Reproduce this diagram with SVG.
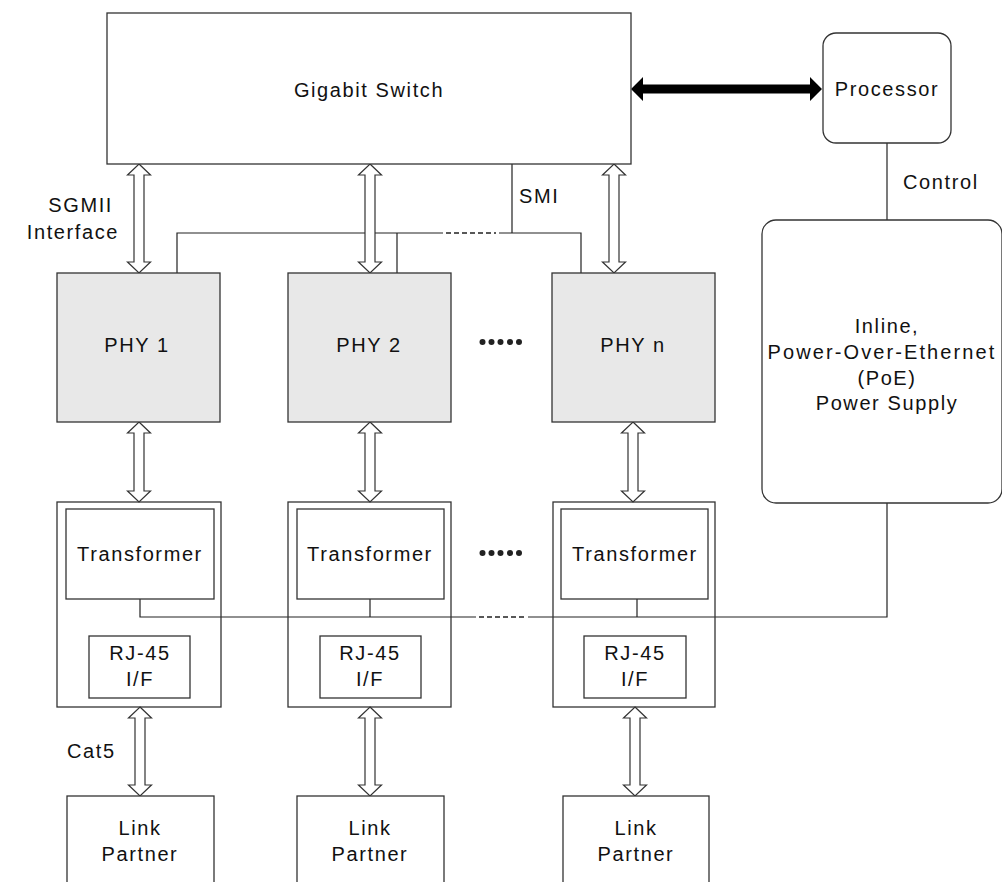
<svg xmlns="http://www.w3.org/2000/svg" width="1002" height="882" viewBox="0 0 1002 882">
<style>
.box{fill:#fff;stroke:#333;stroke-width:1.3}
.phy{fill:#e8e8e8;stroke:#333;stroke-width:1.3}
.t{font-family:"Liberation Sans",Arial,sans-serif;font-size:20px;letter-spacing:1.6px;fill:#111}
.c{text-anchor:middle}
.ln{fill:none;stroke:#222;stroke-width:1.2}
.dash{fill:none;stroke:#222;stroke-width:1.4;stroke-dasharray:5 3}
.ha{fill:#fff;stroke:#333;stroke-width:1.2;stroke-linejoin:miter}
</style>
<rect width="1002" height="882" fill="#fff"/>
<g id="connectors">
<path d="M631,89 L643,77 L643,84.5 L810,84.5 L810,77 L822,89 L810,101 L810,93.5 L643,93.5 L643,101 Z" fill="#000"/>
<path class="ln" d="M887,143 V220"/>
<path class="ln" d="M512,164 V233 M177,273 V233 H443 M499,233 H581 V273 M397,233 V273"/>
<path class="dash" d="M446,233 H496"/>
<path class="ln" d="M887,503 V617 H528 M476,617 H140 V599 M370,599 V617 M637,599 V617"/>
<path class="dash" d="M479,617 H526"/>
<path class="ha" d="M139,164 L150.5,175 L144,175 L144,262 L150.5,262 L139,273 L127.5,262 L134,262 L134,175 L127.5,175 Z"/>
<path class="ha" d="M370,164 L381.5,175 L375,175 L375,262 L381.5,262 L370,273 L358.5,262 L365,262 L365,175 L358.5,175 Z"/>
<path class="ha" d="M614,164 L625.5,175 L619,175 L619,262 L625.5,262 L614,273 L602.5,262 L609,262 L609,175 L602.5,175 Z"/>
<path class="ha" d="M139,422 L150.5,433 L144,433 L144,491 L150.5,491 L139,502 L127.5,491 L134,491 L134,433 L127.5,433 Z"/>
<path class="ha" d="M370,422 L381.5,433 L375,433 L375,491 L381.5,491 L370,502 L358.5,491 L365,491 L365,433 L358.5,433 Z"/>
<path class="ha" d="M633,422 L644.5,433 L638,433 L638,491 L644.5,491 L633,502 L621.5,491 L628,491 L628,433 L621.5,433 Z"/>
<path class="ha" d="M140,707 L151.5,718 L145,718 L145,785 L151.5,785 L140,796 L128.5,785 L135,785 L135,718 L128.5,718 Z"/>
<path class="ha" d="M370,707 L381.5,718 L375,718 L375,785 L381.5,785 L370,796 L358.5,785 L365,785 L365,718 L358.5,718 Z"/>
<path class="ha" d="M635,707 L646.5,718 L640,718 L640,785 L646.5,785 L635,796 L623.5,785 L630,785 L630,718 L623.5,718 Z"/>
</g>
<g id="switch">
<rect class="box" x="107" y="13" width="524" height="151"/>
<text class="t c" x="369" y="97">Gigabit Switch</text>
</g>
<g id="processor">
<rect class="box" x="823" y="33" width="128" height="110" rx="13"/>
<text class="t c" x="887" y="96">Processor</text>
</g>
<g id="poe">
<rect class="box" x="762" y="220" width="240" height="283" rx="14"/>
<text class="t c" x="887" y="333">Inline,</text>
<text class="t c" x="882" y="359" style="letter-spacing:2.1px">Power-Over-Ethernet</text>
<text class="t c" x="887" y="385">(PoE)</text>
<text class="t c" x="887" y="410">Power Supply</text>
</g>
<g id="labels">
<text class="t" x="113" y="212" text-anchor="end">SGMII</text>
<text class="t" x="119" y="239" text-anchor="end">Interface</text>
<text class="t" x="519" y="203">SMI</text>
<text class="t" x="903" y="189">Control</text>
<text class="t" x="67" y="758">Cat5</text>
</g>
<g id="phy1">
<rect class="phy" x="57" y="273" width="163" height="149"/>
<text class="t c" x="137" y="352">PHY 1</text>
</g>
<g id="phy2">
<rect class="phy" x="288" y="273" width="163" height="149"/>
<text class="t c" x="369" y="352">PHY 2</text>
</g>
<g id="phyn">
<rect class="phy" x="552" y="273" width="163" height="149"/>
<text class="t c" x="633" y="352">PHY n</text>
</g>
<g id="dots1" fill="#222">
<circle cx="482.5" cy="342" r="3"/><circle cx="491.5" cy="342" r="3"/><circle cx="500.5" cy="342" r="3"/><circle cx="510" cy="342" r="3"/><circle cx="519" cy="342" r="3"/>
</g>
<g id="port1">
<rect class="box" x="57" y="502" width="164" height="205" style="fill:none"/>
<rect class="box" x="66" y="509" width="148" height="90"/>
<text class="t c" x="140" y="561">Transformer</text>
<rect class="box" x="89" y="636" width="101" height="62"/>
<text class="t c" x="140" y="660">RJ-45</text>
<text class="t c" x="140" y="686">I/F</text>
</g>
<g id="port2">
<rect class="box" x="288" y="502" width="163" height="205" style="fill:none"/>
<rect class="box" x="297" y="509" width="147" height="90"/>
<text class="t c" x="370" y="561">Transformer</text>
<rect class="box" x="320" y="636" width="101" height="62"/>
<text class="t c" x="370" y="660">RJ-45</text>
<text class="t c" x="370" y="686">I/F</text>
</g>
<g id="portn">
<rect class="box" x="553" y="502" width="162" height="205" style="fill:none"/>
<rect class="box" x="561" y="509" width="147" height="90"/>
<text class="t c" x="635" y="561">Transformer</text>
<rect class="box" x="584" y="636" width="102" height="62"/>
<text class="t c" x="635" y="660">RJ-45</text>
<text class="t c" x="635" y="686">I/F</text>
</g>
<g id="dots2" fill="#222">
<circle cx="482.5" cy="553" r="3"/><circle cx="491.5" cy="553" r="3"/><circle cx="500.5" cy="553" r="3"/><circle cx="510" cy="553" r="3"/><circle cx="519" cy="553" r="3"/>
</g>
<g id="link1">
<rect class="box" x="67" y="796" width="147" height="100"/>
<text class="t c" x="140" y="835">Link</text>
<text class="t c" x="140" y="861">Partner</text>
</g>
<g id="link2">
<rect class="box" x="297" y="796" width="147" height="100"/>
<text class="t c" x="370" y="835">Link</text>
<text class="t c" x="370" y="861">Partner</text>
</g>
<g id="linkn">
<rect class="box" x="563" y="796" width="146" height="100"/>
<text class="t c" x="636" y="835">Link</text>
<text class="t c" x="636" y="861">Partner</text>
</g>
</svg>
